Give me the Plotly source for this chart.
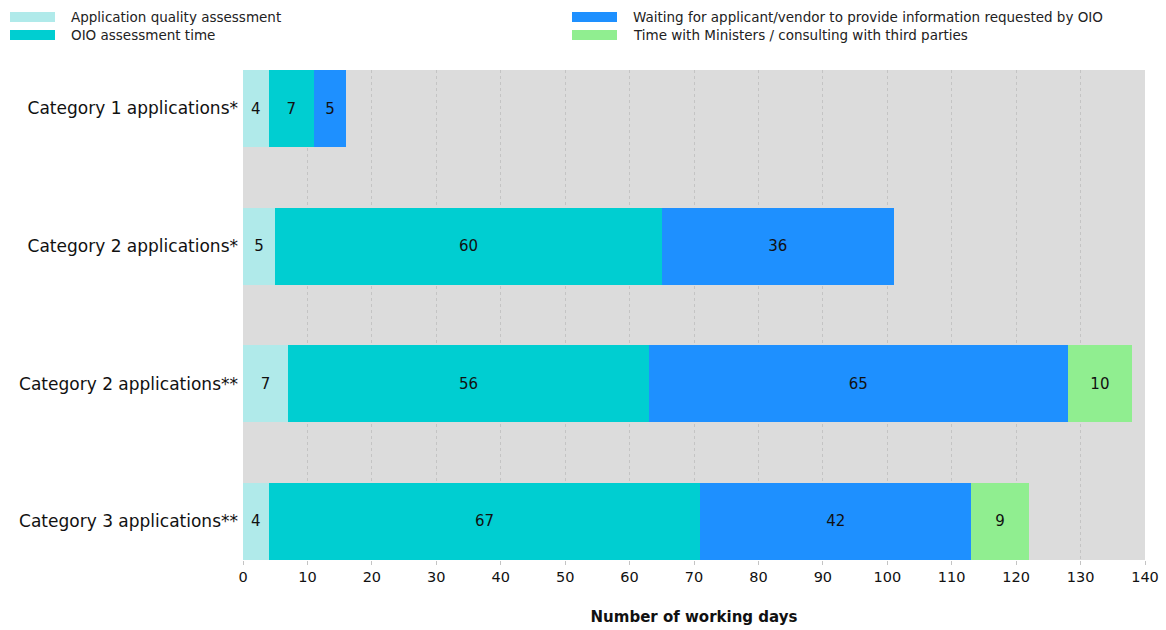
import plotly.graph_objects as go

categories = [
    "Category 1 applications*",
    "Category 2 applications*",
    "Category 2 applications**",
    "Category 3 applications**",
]
quality_assessment = [4, 5, 7, 4]
oio_assessment = [7, 60, 56, 67]
waiting_vendor = [5, 36, 65, 42]
ministers_time = [None, None, 10, 9]

series = [
    ("Application quality assessment", quality_assessment, "#b0eaea"),
    ("OIO assessment time", oio_assessment, "#00ced1"),
    ("Waiting for applicant/vendor to provide information requested by OIO", waiting_vendor, "#1e90ff"),
    ("Time with Ministers / consulting with third parties", ministers_time, "#90ee90"),
]

FONT = "DejaVu Sans, Verdana, sans-serif"
L, R, T, B = 243, 21, 70, 70
PW, PH = 1166 - L - R, 630 - T - B

fig = go.Figure()
for name, vals, color in series:
    fig.add_trace(go.Bar(
        y=categories, x=vals, name=name, orientation="h",
        marker=dict(color=color, line=dict(width=0)),
        width=0.56,
        text=[str(v) if v is not None else "" for v in vals],
        textposition="inside", insidetextanchor="middle",
        textfont=dict(family=FONT, size=15, color="#111111"),
        constraintext="none",
        showlegend=False,
    ))

# Two-column legend drawn above the plot
legend_pos = [(10, 17), (10, 35), (572, 17), (572, 35)]
for (name, _, color), (lx, ly) in zip(series, legend_pos):
    fig.add_shape(type="rect", xref="paper", yref="paper",
                  x0=(lx - L) / PW, x1=(lx + 45 - L) / PW,
                  y0=(630 - B - ly - 5) / PH, y1=(630 - B - ly + 5) / PH,
                  fillcolor=color, line=dict(width=0))
    fig.add_annotation(xref="paper", yref="paper",
                       x=(lx + 59 - L) / PW, y=(630 - B - ly) / PH,
                       text=name, showarrow=False, xanchor="left", yanchor="middle",
                       font=dict(family=FONT, size=13.5, color="#222222"))

fig.update_layout(
    barmode="stack",
    width=1166, height=630,
    margin=dict(l=L, r=R, t=T, b=B, autoexpand=False),
    paper_bgcolor="white",
    plot_bgcolor="#dcdcdc",
    font=dict(family=FONT, color="#111111"),
    xaxis=dict(
        range=[0, 140], dtick=10, tick0=0,
        automargin=False,
        showgrid=True, gridcolor="#c4c4c4", griddash="dot", gridwidth=1,
        zeroline=False,
        ticks="outside", ticklen=4, tickcolor="#c4c4c4",
        tickfont=dict(family=FONT, size=14.5, color="#111111"),
        title=dict(text="<b>Number of working days</b>",
                   font=dict(family=FONT, size=15, color="#111111"), standoff=27),
    ),
    yaxis=dict(
        range=[3.28, -0.28],
        automargin=False,
        showgrid=False, zeroline=False,
        ticks="", ticklabelstandoff=4,
        tickfont=dict(family=FONT, size=17, color="#111111"),
    ),
)

fig.write_html("out.html")
